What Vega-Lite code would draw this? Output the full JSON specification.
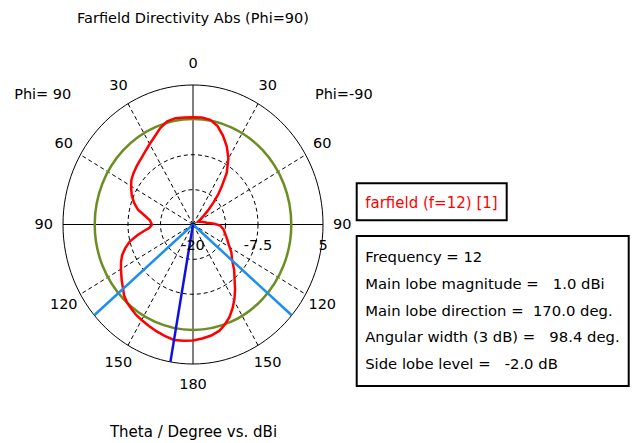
{
  "$schema": "https://vega.github.io/schema/vega-lite/v6.json",
  "width": 260,
  "height": 279,
  "autosize": {"type": "none"},
  "padding": {"left": 63, "top": 85, "right": 309, "bottom": 79},
  "background": "#ffffff",
  "title": {"text": "Farfield Directivity Abs (Phi=90)", "anchor": "middle", "frame": "group", "offset": 30, "font": "DejaVu Sans", "fontSize": 14.5, "fontWeight": "normal", "color": "#000000"},
  "config": {
    "view": {"stroke": null},
    "text": {"font": "DejaVu Sans"},
    "axis": {"titleFont": "DejaVu Sans", "titleFontSize": 15, "titleFontWeight": "normal", "titleColor": "#000000"},
    "legend": {"strokeWidth": 2}
  },
  "datasets": {
    "curve": [
      {"phi": 90, "theta": 0, "dBi": -0.8}, {"phi": 90, "theta": 5, "dBi": -0.75}, {"phi": 90, "theta": 10, "dBi": -0.65},
      {"phi": 90, "theta": 15, "dBi": -0.85}, {"phi": 90, "theta": 20, "dBi": -1.6}, {"phi": 90, "theta": 25, "dBi": -2.6},
      {"phi": 90, "theta": 30, "dBi": -3.35}, {"phi": 90, "theta": 35, "dBi": -4.0}, {"phi": 90, "theta": 41, "dBi": -4.6},
      {"phi": 90, "theta": 46, "dBi": -4.95}, {"phi": 90, "theta": 51, "dBi": -5.3}, {"phi": 90, "theta": 56, "dBi": -5.7},
      {"phi": 90, "theta": 61, "dBi": -6.4}, {"phi": 90, "theta": 66, "dBi": -7.1}, {"phi": 90, "theta": 71, "dBi": -8.0},
      {"phi": 90, "theta": 76, "dBi": -9.1}, {"phi": 90, "theta": 81, "dBi": -10.8}, {"phi": 90, "theta": 85, "dBi": -11.7},
      {"phi": 90, "theta": 90, "dBi": -12.1}, {"phi": 90, "theta": 94, "dBi": -11.6}, {"phi": 90, "theta": 97, "dBi": -10.5},
      {"phi": 90, "theta": 100, "dBi": -9.2}, {"phi": 90, "theta": 104, "dBi": -7.5}, {"phi": 90, "theta": 108, "dBi": -6.3},
      {"phi": 90, "theta": 112, "dBi": -5.3}, {"phi": 90, "theta": 116, "dBi": -4.6}, {"phi": 90, "theta": 120, "dBi": -4.0},
      {"phi": 90, "theta": 126, "dBi": -3.05}, {"phi": 90, "theta": 130, "dBi": -2.4}, {"phi": 90, "theta": 134, "dBi": -1.6},
      {"phi": 90, "theta": 138, "dBi": -1.1}, {"phi": 90, "theta": 142, "dBi": -0.8}, {"phi": 90, "theta": 146, "dBi": -0.45},
      {"phi": 90, "theta": 150, "dBi": -0.25}, {"phi": 90, "theta": 155, "dBi": 0.05}, {"phi": 90, "theta": 160, "dBi": 0.4},
      {"phi": 90, "theta": 165, "dBi": 0.7}, {"phi": 90, "theta": 170, "dBi": 1.0}, {"phi": 90, "theta": 175, "dBi": 0.9},
      {"phi": 90, "theta": 180, "dBi": 0.78},
      {"phi": -90, "theta": 0, "dBi": -0.8}, {"phi": -90, "theta": 5, "dBi": -0.75}, {"phi": -90, "theta": 10, "dBi": -0.95},
      {"phi": -90, "theta": 15, "dBi": -1.75}, {"phi": -90, "theta": 20, "dBi": -3.1}, {"phi": -90, "theta": 25, "dBi": -4.6},
      {"phi": -90, "theta": 30, "dBi": -6.4}, {"phi": -90, "theta": 35, "dBi": -8.7}, {"phi": -90, "theta": 39, "dBi": -11.2},
      {"phi": -90, "theta": 42, "dBi": -12.8}, {"phi": -90, "theta": 45, "dBi": -14.4}, {"phi": -90, "theta": 48, "dBi": -15.9},
      {"phi": -90, "theta": 52, "dBi": -17.2}, {"phi": -90, "theta": 57, "dBi": -18.3}, {"phi": -90, "theta": 63, "dBi": -18.9},
      {"phi": -90, "theta": 70, "dBi": -18.6}, {"phi": -90, "theta": 77, "dBi": -18.0}, {"phi": -90, "theta": 83, "dBi": -17.3},
      {"phi": -90, "theta": 88, "dBi": -15.9}, {"phi": -90, "theta": 92, "dBi": -14.8}, {"phi": -90, "theta": 98, "dBi": -14.1},
      {"phi": -90, "theta": 105, "dBi": -13.6}, {"phi": -90, "theta": 112, "dBi": -12.9}, {"phi": -90, "theta": 118, "dBi": -12.2},
      {"phi": -90, "theta": 124, "dBi": -11.1}, {"phi": -90, "theta": 130, "dBi": -10.2}, {"phi": -90, "theta": 136, "dBi": -8.6},
      {"phi": -90, "theta": 141, "dBi": -7.3}, {"phi": -90, "theta": 145, "dBi": -5.9}, {"phi": -90, "theta": 149, "dBi": -4.5},
      {"phi": -90, "theta": 153, "dBi": -3.2}, {"phi": -90, "theta": 157, "dBi": -2.0}, {"phi": -90, "theta": 161, "dBi": -1.1},
      {"phi": -90, "theta": 165, "dBi": -0.3}, {"phi": -90, "theta": 170, "dBi": 0.2}, {"phi": -90, "theta": 175, "dBi": 0.5},
      {"phi": -90, "theta": 180, "dBi": 0.78}
    ],
    "gridCircles": [{"level": -13.75}, {"level": -7.5}],
    "outerCircle": [{"level": 5}],
    "levelCircle": [{"level": -1.1}],
    "gridSpokes": [{"angle": 30}, {"angle": 60}, {"angle": 120}, {"angle": 150}, {"angle": -30}, {"angle": -60}, {"angle": -120}, {"angle": -150}],
    "axisSpokes": [{"angle": 0}, {"angle": 90}, {"angle": 180}, {"angle": -90}],
    "beamwidth": [{"phi": 90, "theta": 130.6}, {"phi": -90, "theta": 130.6}],
    "mainLobe": [{"phi": 90, "theta": 170}],
    "angleLabels": [
      {"theta": 0, "phi": 90, "label": "0"}, {"theta": 30, "phi": 90, "label": "30"}, {"theta": 60, "phi": 90, "label": "60"},
      {"theta": 90, "phi": 90, "label": "90"}, {"theta": 120, "phi": 90, "label": "120"}, {"theta": 150, "phi": 90, "label": "150"},
      {"theta": 180, "phi": 90, "label": "180"}, {"theta": 30, "phi": -90, "label": "30"}, {"theta": 60, "phi": -90, "label": "60"},
      {"theta": 90, "phi": -90, "label": "90"}, {"theta": 120, "phi": -90, "label": "120"}, {"theta": 150, "phi": -90, "label": "150"}
    ],
    "radialLabels": [{"level": -20, "label": "-20"}, {"level": -7.5, "label": "-7.5"}, {"level": 5, "label": "5"}],
    "phiLabels": [{"phi": 90, "label": "Phi= 90"}, {"phi": -90, "label": "Phi=-90"}],
    "info": [
      {"info": "Frequency = 12"},
      {"info": "Main lobe magnitude =\u00a0\u00a0\u00a01.0 dBi"},
      {"info": "Main lobe direction =\u00a0\u00a0170.0 deg."},
      {"info": "Angular width (3 dB) =\u00a0\u00a0\u00a098.4 deg."},
      {"info": "Side lobe level =\u00a0\u00a0\u00a0-2.0 dB"}
    ]
  },
  "layer": [
    {
      "data": {"name": "gridCircles"},
      "transform": [{"calculate": "datum.level + 20", "as": "rad"}, {"calculate": "0", "as": "x"}, {"calculate": "0", "as": "y"}],
      "mark": {"type": "point", "shape": "M 1 0 C 1 0.5927 0.5523 1.0731 0 1.0731 C -0.5523 1.0731 -1 0.5927 -1 0 C -1 -0.5927 -0.5523 -1.0731 0 -1.0731 C 0.5523 -1.0731 1 -0.5927 1 0 Z", "filled": false, "color": "#000000", "strokeWidth": 1, "strokeDash": [4, 3], "opacity": 1},
      "encoding": {
        "x": {"field": "x", "type": "quantitative", "scale": {"domain": [-25, 25], "nice": false, "zero": false}, "axis": {"title": "Theta / Degree vs. dBi", "labels": false, "ticks": false, "domain": false, "grid": false, "titlePadding": 60}},
        "y": {"field": "y", "type": "quantitative", "scale": {"domain": [-25, 25], "nice": false, "zero": false}, "axis": null},
        "size": {"field": "rad", "type": "quantitative", "scale": {"type": "pow", "exponent": 2, "domain": [0, 25], "range": [0, 67600]}, "legend": null}
      }
    },
    {
      "data": {"name": "outerCircle"},
      "transform": [{"calculate": "datum.level + 20", "as": "rad"}, {"calculate": "0", "as": "x"}, {"calculate": "0", "as": "y"}],
      "mark": {"type": "point", "shape": "M 1 0 C 1 0.5927 0.5523 1.0731 0 1.0731 C -0.5523 1.0731 -1 0.5927 -1 0 C -1 -0.5927 -0.5523 -1.0731 0 -1.0731 C 0.5523 -1.0731 1 -0.5927 1 0 Z", "filled": false, "color": "#000000", "strokeWidth": 1, "opacity": 1},
      "encoding": {
        "x": {"field": "x", "type": "quantitative", "scale": {"domain": [-25, 25], "nice": false, "zero": false}, "axis": {"title": "Theta / Degree vs. dBi", "labels": false, "ticks": false, "domain": false, "grid": false, "titlePadding": 60}},
        "y": {"field": "y", "type": "quantitative", "scale": {"domain": [-25, 25], "nice": false, "zero": false}, "axis": null},
        "size": {"field": "rad", "type": "quantitative", "scale": {"type": "pow", "exponent": 2, "domain": [0, 25], "range": [0, 67600]}, "legend": null}
      }
    },
    {
      "data": {"name": "gridSpokes"},
      "transform": [{"calculate": "0", "as": "x"}, {"calculate": "0", "as": "y"}, {"calculate": "25*sin(datum.angle*PI/180)", "as": "x2"}, {"calculate": "25*cos(datum.angle*PI/180)", "as": "y2"}],
      "mark": {"type": "rule", "color": "#000000", "strokeWidth": 1, "strokeDash": [4, 3]},
      "encoding": {
        "x": {"field": "x", "type": "quantitative", "scale": {"domain": [-25, 25], "nice": false, "zero": false}, "axis": {"title": "Theta / Degree vs. dBi", "labels": false, "ticks": false, "domain": false, "grid": false, "titlePadding": 60}},
        "y": {"field": "y", "type": "quantitative", "scale": {"domain": [-25, 25], "nice": false, "zero": false}, "axis": null},
        "x2": {"field": "x2"},
        "y2": {"field": "y2"}
      }
    },
    {
      "data": {"name": "axisSpokes"},
      "transform": [{"calculate": "0", "as": "x"}, {"calculate": "0", "as": "y"}, {"calculate": "25*sin(datum.angle*PI/180)", "as": "x2"}, {"calculate": "25*cos(datum.angle*PI/180)", "as": "y2"}],
      "mark": {"type": "rule", "color": "#000000", "strokeWidth": 1},
      "encoding": {
        "x": {"field": "x", "type": "quantitative", "scale": {"domain": [-25, 25], "nice": false, "zero": false}, "axis": {"title": "Theta / Degree vs. dBi", "labels": false, "ticks": false, "domain": false, "grid": false, "titlePadding": 60}},
        "y": {"field": "y", "type": "quantitative", "scale": {"domain": [-25, 25], "nice": false, "zero": false}, "axis": null},
        "x2": {"field": "x2"},
        "y2": {"field": "y2"}
      }
    },
    {
      "data": {"name": "levelCircle"},
      "transform": [{"calculate": "datum.level + 20", "as": "rad"}, {"calculate": "0", "as": "x"}, {"calculate": "0", "as": "y"}],
      "mark": {"type": "point", "shape": "M 1 0 C 1 0.5927 0.5523 1.0731 0 1.0731 C -0.5523 1.0731 -1 0.5927 -1 0 C -1 -0.5927 -0.5523 -1.0731 0 -1.0731 C 0.5523 -1.0731 1 -0.5927 1 0 Z", "filled": false, "color": "#6b8e23", "strokeWidth": 2.5, "opacity": 1},
      "encoding": {
        "x": {"field": "x", "type": "quantitative", "scale": {"domain": [-25, 25], "nice": false, "zero": false}, "axis": {"title": "Theta / Degree vs. dBi", "labels": false, "ticks": false, "domain": false, "grid": false, "titlePadding": 60}},
        "y": {"field": "y", "type": "quantitative", "scale": {"domain": [-25, 25], "nice": false, "zero": false}, "axis": null},
        "size": {"field": "rad", "type": "quantitative", "scale": {"type": "pow", "exponent": 2, "domain": [0, 25], "range": [0, 67600]}, "legend": null}
      }
    },
    {
      "data": {"name": "curve"},
      "transform": [
        {"calculate": "datum.phi == 90 ? -datum.theta : datum.theta", "as": "pa"},
        {"calculate": "(datum.dBi + 20)*sin(datum.pa*PI/180)", "as": "x"},
        {"calculate": "(datum.dBi + 20)*cos(datum.pa*PI/180)", "as": "y"}
      ],
      "mark": {"type": "line", "strokeWidth": 2.5},
      "encoding": {
        "x": {"field": "x", "type": "quantitative", "scale": {"domain": [-25, 25], "nice": false, "zero": false}, "axis": {"title": "Theta / Degree vs. dBi", "labels": false, "ticks": false, "domain": false, "grid": false, "titlePadding": 60}},
        "y": {"field": "y", "type": "quantitative", "scale": {"domain": [-25, 25], "nice": false, "zero": false}, "axis": null},
        "order": {"field": "pa", "type": "quantitative"},
        "color": {"datum": "farfield (f=12) [1]", "type": "nominal", "scale": {"domain": ["farfield (f=12) [1]"], "range": ["#ff0000"]},
          "legend": {"orient": "none", "legendX": 293.7, "legendY": 98.3, "title": null, "labelColor": "#ff0000", "labelFont": "DejaVu Sans", "labelFontSize": 15, "labelLimit": 400, "symbolOpacity": 0, "symbolStrokeWidth": 0, "symbolSize": 529, "labelOffset": -23, "padding": 8.5, "strokeColor": "#000000",
            "encode": {"legend": {"update": {"strokeWidth": {"value": 2}}}}}}
      }
    },
    {
      "data": {"name": "beamwidth"},
      "transform": [
        {"calculate": "datum.phi == 90 ? -datum.theta : datum.theta", "as": "pa"},
        {"calculate": "0", "as": "x"}, {"calculate": "0", "as": "y"},
        {"calculate": "25*sin(datum.pa*PI/180)", "as": "x2"}, {"calculate": "25*cos(datum.pa*PI/180)", "as": "y2"}
      ],
      "mark": {"type": "rule", "color": "#1c8ef0", "strokeWidth": 2.5},
      "encoding": {
        "x": {"field": "x", "type": "quantitative", "scale": {"domain": [-25, 25], "nice": false, "zero": false}, "axis": {"title": "Theta / Degree vs. dBi", "labels": false, "ticks": false, "domain": false, "grid": false, "titlePadding": 60}},
        "y": {"field": "y", "type": "quantitative", "scale": {"domain": [-25, 25], "nice": false, "zero": false}, "axis": null},
        "x2": {"field": "x2"},
        "y2": {"field": "y2"}
      }
    },
    {
      "data": {"name": "mainLobe"},
      "transform": [
        {"calculate": "datum.phi == 90 ? -datum.theta : datum.theta", "as": "pa"},
        {"calculate": "0", "as": "x"}, {"calculate": "0", "as": "y"},
        {"calculate": "25*sin(datum.pa*PI/180)", "as": "x2"}, {"calculate": "25*cos(datum.pa*PI/180)", "as": "y2"}
      ],
      "mark": {"type": "rule", "color": "#1010e0", "strokeWidth": 2.5},
      "encoding": {
        "x": {"field": "x", "type": "quantitative", "scale": {"domain": [-25, 25], "nice": false, "zero": false}, "axis": {"title": "Theta / Degree vs. dBi", "labels": false, "ticks": false, "domain": false, "grid": false, "titlePadding": 60}},
        "y": {"field": "y", "type": "quantitative", "scale": {"domain": [-25, 25], "nice": false, "zero": false}, "axis": null},
        "x2": {"field": "x2"},
        "y2": {"field": "y2"}
      }
    },
    {
      "data": {"name": "angleLabels"},
      "transform": [
        {"calculate": "datum.phi == 90 ? -datum.theta : datum.theta", "as": "pa"},
        {"calculate": "28.7*sin(datum.pa*PI/180)", "as": "x"},
        {"calculate": "28.7*cos(datum.pa*PI/180)", "as": "y"}
      ],
      "mark": {"type": "text", "align": "center", "baseline": "middle", "fontSize": 14.5, "color": "#000000"},
      "encoding": {
        "x": {"field": "x", "type": "quantitative", "scale": {"domain": [-25, 25], "nice": false, "zero": false}, "axis": {"title": "Theta / Degree vs. dBi", "labels": false, "ticks": false, "domain": false, "grid": false, "titlePadding": 60}},
        "y": {"field": "y", "type": "quantitative", "scale": {"domain": [-25, 25], "nice": false, "zero": false}, "axis": null},
        "text": {"field": "label", "type": "nominal"}
      }
    },
    {
      "data": {"name": "radialLabels"},
      "transform": [{"calculate": "datum.level + 20", "as": "x"}, {"calculate": "0", "as": "y"}],
      "mark": {"type": "text", "align": "center", "baseline": "middle", "fontSize": 14.5, "color": "#000000", "dy": 21},
      "encoding": {
        "x": {"field": "x", "type": "quantitative", "scale": {"domain": [-25, 25], "nice": false, "zero": false}, "axis": {"title": "Theta / Degree vs. dBi", "labels": false, "ticks": false, "domain": false, "grid": false, "titlePadding": 60}},
        "y": {"field": "y", "type": "quantitative", "scale": {"domain": [-25, 25], "nice": false, "zero": false}, "axis": null},
        "text": {"field": "label", "type": "nominal"}
      }
    },
    {
      "data": {"name": "phiLabels"},
      "transform": [{"calculate": "datum.phi == 90 ? -28.9 : 29.0", "as": "x"}, {"calculate": "23.2", "as": "y"}],
      "mark": {"type": "text", "align": "center", "baseline": "middle", "fontSize": 14.5, "color": "#000000"},
      "encoding": {
        "x": {"field": "x", "type": "quantitative", "scale": {"domain": [-25, 25], "nice": false, "zero": false}, "axis": {"title": "Theta / Degree vs. dBi", "labels": false, "ticks": false, "domain": false, "grid": false, "titlePadding": 60}},
        "y": {"field": "y", "type": "quantitative", "scale": {"domain": [-25, 25], "nice": false, "zero": false}, "axis": null},
        "text": {"field": "label", "type": "nominal"}
      }
    },
    {
      "data": {"name": "info"},
      "mark": {"type": "point", "opacity": 0},
      "encoding": {
        "shape": {"field": "info", "type": "nominal", "sort": null,
          "legend": {"orient": "none", "legendX": 293.7, "legendY": 151, "title": null, "labelColor": "#000000", "labelFont": "DejaVu Sans", "labelFontSize": 14.8, "labelLimit": 400, "symbolOpacity": 0, "symbolStrokeWidth": 0, "symbolSize": 676, "labelOffset": -26, "rowPadding": 1, "padding": 8.5, "strokeColor": "#000000",
            "encode": {"legend": {"update": {"strokeWidth": {"value": 2}}}}}}
      }
    }
  ]
}
